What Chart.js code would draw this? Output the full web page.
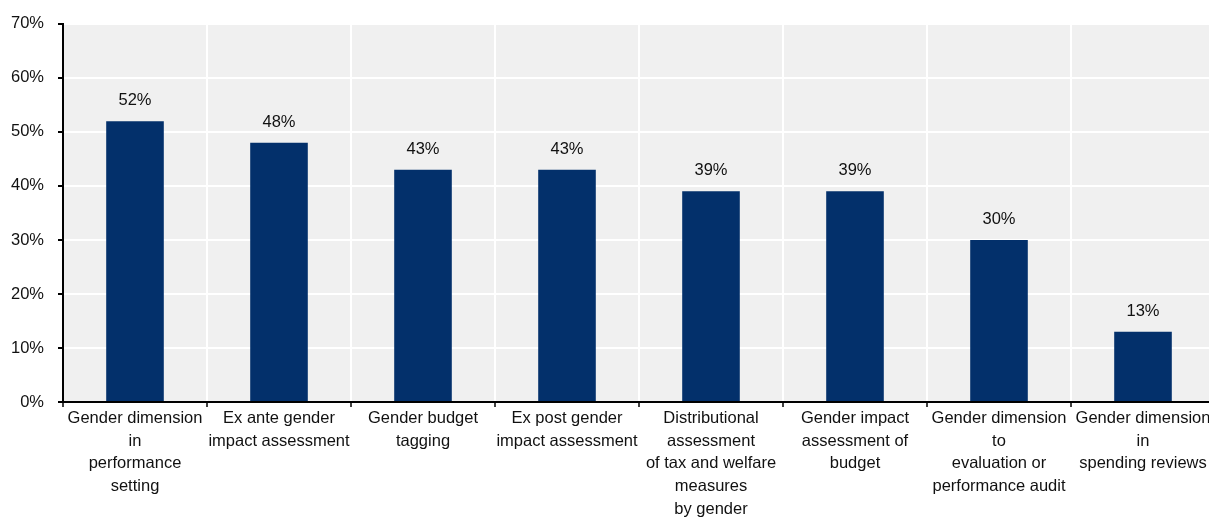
<!DOCTYPE html>
<html>
<head>
<meta charset="utf-8">
<script src="https://cdn.jsdelivr.net/npm/chart.js@4/dist/chart.umd.min.js"></script>
<style>
  html, body { margin: 0; padding: 0; background: #fff; overflow: hidden; }
  canvas { display: block; }
</style>
</head>
<body>
<canvas id="c" width="1215" height="519"></canvas>
<script>
// Gender budgeting practices: share of countries using each tool
const categories = [
  ["Gender dimension", "in", "performance", "setting"],
  ["Ex ante gender", "impact assessment"],
  ["Gender budget", "tagging"],
  ["Ex post gender", "impact assessment"],
  ["Distributional", "assessment", "of tax and welfare", "measures", "by gender"],
  ["Gender impact", "assessment of", "budget"],
  ["Gender dimension", "to", "evaluation or", "performance audit"],
  ["Gender dimension", "in", "spending reviews"]
];
const shares = [52, 48, 43, 43, 39, 39, 30, 13];
const yTickValues = [0, 10, 20, 30, 40, 50, 60, 70];

const FONT = "'Liberation Sans', Arial, sans-serif";
const FONT_SIZE = 16.5;
const TEXT = '#111';

// grey plotting panel behind the bars
const panelBg = {
  id: 'panelBg',
  beforeDraw(chart) {
    const { ctx, chartArea: a } = chart;
    ctx.save();
    ctx.fillStyle = '#f0f0f0';
    ctx.fillRect(a.left, a.top, a.right - a.left, a.bottom - a.top);
    ctx.restore();
  }
};

// percentage written above each bar
const valueLabels = {
  id: 'valueLabels',
  afterDatasetsDraw(chart) {
    const { ctx } = chart;
    const meta = chart.getDatasetMeta(0);
    ctx.save();
    ctx.font = FONT_SIZE + 'px ' + FONT;
    ctx.fillStyle = TEXT;
    ctx.textAlign = 'center';
    ctx.textBaseline = 'alphabetic';
    meta.data.forEach((bar, i) => {
      ctx.fillText(shares[i] + '%', bar.x, bar.y - 16);
    });
    ctx.restore();
  }
};

new Chart(document.getElementById('c'), {
  type: 'bar',
  data: {
    labels: categories,
    datasets: [{
      data: shares,
      backgroundColor: '#03306b',
      borderWidth: 0,
      barPercentage: 0.4,
      categoryPercentage: 1.0
    }]
  },
  options: {
    responsive: false,
    animation: false,
    layout: { padding: { top: 21, left: 0, right: 0, bottom: 0 } },
    plugins: { legend: { display: false }, tooltip: { enabled: false } },
    scales: {
      x: {
        offset: true,
        grid: {
          offset: true,
          color: '#ffffff',
          lineWidth: 2,
          tickColor: '#000',
          tickWidth: 1.5,
          tickLength: 5
        },
        border: { color: '#000', width: 2 },
        ticks: {
          color: TEXT,
          font: { family: FONT, size: FONT_SIZE, lineHeight: 1.375 },
          padding: 0,
          maxRotation: 0,
          autoSkip: false
        },
        afterFit(scale) { scale.height = 117; }
      },
      y: {
        min: 0,
        max: 70,
        afterBuildTicks(scale) { scale.ticks = yTickValues.map(v => ({ value: v })); },
        grid: {
          color: '#ffffff',
          lineWidth: 2,
          tickColor: '#000',
          tickWidth: 2,
          tickLength: 5
        },
        border: { color: '#000', width: 2 },
        ticks: {
          color: TEXT,
          font: { family: FONT, size: FONT_SIZE },
          padding: 14,
          callback: v => v + '%'
        },
        afterFit(scale) { scale.width = 63; }
      }
    }
  },
  plugins: [panelBg, valueLabels]
});
</script>
</body>
</html>
